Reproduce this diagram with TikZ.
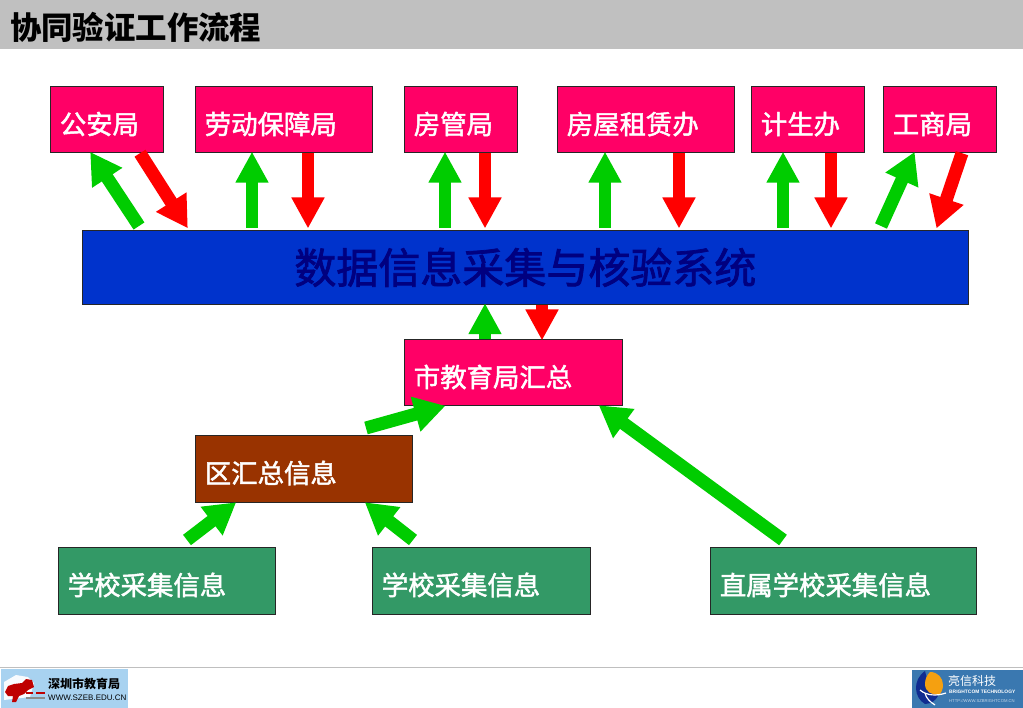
\documentclass[tikz,border=0pt]{standalone}
\usepackage{fontspec}
\setmainfont{Noto Sans CJK SC}
\newfontfamily\heavyfont[RawFeature={embolden=1.8}]{Noto Sans CJK SC}
\newfontfamily\latinfont{Liberation Sans}
\usetikzlibrary{arrows.meta}
\definecolor{pinkbox}{HTML}{FF0066}
\definecolor{bluebox}{HTML}{0033CC}
\definecolor{navytext}{HTML}{000080}
\definecolor{brownbox}{HTML}{993300}
\definecolor{greenbox}{HTML}{339966}
\definecolor{arrowgreen}{HTML}{00CC00}
\definecolor{arrowred}{HTML}{FF0000}
\definecolor{titlebar}{HTML}{C0C0C0}
\definecolor{logoblue}{HTML}{A8D2F0}
\definecolor{brightblue}{HTML}{3A78B0}
\definecolor{globeblue}{HTML}{102C90}
\definecolor{globeorange}{HTML}{F5A010}
\tikzset{
  box/.style={draw=black!85, line width=.7pt, anchor=north west, align=left,
    inner xsep=9.5pt, inner ysep=0pt, minimum height=66.5pt, text=white,
    text height=35pt, text depth=6pt,
    font=\heavyfont\fontsize{26.4}{28}\selectfont},
  pinknode/.style={box, fill=pinkbox},
  brownnode/.style={box, fill=brownbox},
  greennode/.style={box, fill=greenbox},
  ga/.style={draw=arrowgreen, line width=11.5pt, shorten >=-1.5pt, -{Triangle[width=31pt,length=31pt]}},
  ra/.style={draw=arrowred, line width=11.5pt, shorten >=-1.5pt, -{Triangle[width=31pt,length=31pt]}},
  diag/.style={line width=13pt, -{Triangle[width=34pt,length=31pt]}},
}
\begin{document}
\begin{tikzpicture}[x=1pt,y=-1pt]
\useasboundingbox (0,0) rectangle (1023,708);
\fill[white] (0,0) rectangle (1023,708);
\fill[titlebar] (0,0) rectangle (1023,49);
\node[anchor=west, inner sep=0pt, font=\fontsize{31.4}{33}\selectfont\bfseries] (title) at (10,27) {协同验证工作流程};

\node[pinknode, text width=93.5pt] (n1) at (50,86) {公安局};
\node[pinknode, text width=157.5pt] (n2) at (195,86) {劳动保障局};
\node[pinknode, text width=93.5pt] (n3) at (404,86) {房管局};
\node[pinknode, text width=157.5pt] (n4) at (557,86) {房屋租赁办};
\node[pinknode, text width=93.5pt] (n5) at (751,86) {计生办};
\node[pinknode, text width=93.5pt] (n6) at (883,86) {工商局};

\node[draw=black!85, line width=.7pt, fill=bluebox, anchor=north west, minimum width=886pt, minimum height=74pt,
  inner sep=0pt, text=navytext, font=\heavyfont\fontsize{42}{44}\selectfont] (sys) at (82,230) {数据信息采集与核验系统};

\node[pinknode, text width=198.5pt] (city) at (404,339) {市教育局汇总};
\node[brownnode, text width=197.5pt] (dist) at (195,435) {区汇总信息};
\node[greennode, text width=197.5pt] (s1) at (58,547) {学校采集信息};
\node[greennode, text width=198.5pt] (s2) at (372,547) {学校采集信息};
\node[greennode, text width=246.5pt] (s3) at (710,547) {直属学校采集信息};

\draw[ga, diag] ([xshift=57pt,yshift=4pt]sys.north west) -- ([xshift=41pt]n1.south west);
\draw[ra, diag] ([xshift=90pt]n1.south west) -- ([xshift=105pt,yshift=3pt]sys.north west);
\draw[ga] ([xshift=170pt,yshift=2pt]sys.north west) -- ([xshift=57pt]n2.south west);
\draw[ra] ([xshift=113pt]n2.south west) -- ([xshift=226pt,yshift=3pt]sys.north west);
\draw[ga] ([xshift=363pt,yshift=2pt]sys.north west) -- ([xshift=41pt]n3.south west);
\draw[ra] ([xshift=81pt]n3.south west) -- ([xshift=403pt,yshift=3pt]sys.north west);
\draw[ga] ([xshift=523pt,yshift=2pt]sys.north west) -- ([xshift=48pt]n4.south west);
\draw[ra] ([xshift=122pt]n4.south west) -- ([xshift=597pt,yshift=3pt]sys.north west);
\draw[ga] ([xshift=701pt,yshift=2pt]sys.north west) -- ([xshift=32pt]n5.south west);
\draw[ra] ([xshift=80pt]n5.south west) -- ([xshift=749pt,yshift=3pt]sys.north west);
\draw[ga, diag] ([xshift=799pt,yshift=4pt]sys.north west) -- ([xshift=31pt]n6.south west);
\draw[ra, diag] ([xshift=79pt]n6.south west) -- ([xshift=855pt,yshift=3pt]sys.north west);

\draw[ga] ([xshift=81pt]city.north west) -- ([xshift=403pt]sys.south west);
\draw[ra] ([xshift=460pt]sys.south west) -- ([xshift=138pt]city.north west);
\draw[ga, diag] ([xshift=171pt,yshift=7pt]dist.north west) -- ([xshift=40pt]city.south west);
\draw[ga, diag] ([xshift=129pt,yshift=7pt]s1.north west) -- ([xshift=40pt,yshift=-1pt]dist.south west);
\draw[ga, diag] ([xshift=41pt,yshift=7pt]s2.north west) -- ([xshift=171pt,yshift=-1pt]dist.south west);
\draw[ga, diag] ([xshift=73pt,yshift=7pt]s3.north west) -- ([xshift=196pt]city.south west);

% footer rule
\draw[black!25, line width=1pt] (0,667.5) -- (1023,667.5);

% left logo
\fill[logoblue] (1,669) rectangle (128,708);
\fill[white!92!logoblue] (4,682) -- (16,675) -- (28,677) -- (34,683) -- (30,697) -- (4,700) -- cycle;
\fill[red!75!black] (5,692) -- (8,686) -- (14,684) -- (22,683) -- (26,679) -- (32,680) -- (34,687) -- (28,690) -- (24,694) -- (19,696) -- (16,702) -- (12,702) -- (13,696) -- (8,696) -- cycle;
\fill[red!75!black] (26,692) rectangle (33,694);
\fill[red!75!black] (36,692) rectangle (45,694);
\fill[black!45] (26,697) rectangle (45,699);
\node[anchor=west, inner sep=0pt, font=\fontsize{12}{14}\selectfont\bfseries] (lt1) at (48,684) {深圳市教育局};
\node[anchor=west, inner sep=0pt, font=\latinfont\fontsize{8}{9}\selectfont] (lt2) at (48,698) {WWW.SZEB.EDU.CN};

% right logo
\fill[brightblue] (912,670) rectangle (1023,708);
\fill[globeblue] (925,671) .. controls (912,680) and (914,698) .. (925,704) .. controls (931,704) and (936,700) .. (938,696) -- (930,690) -- cycle;
\fill[globeorange] (930,672) .. controls (938,672) and (943,678) .. (943,685) .. controls (943,690) and (941,693) .. (939,695) .. controls (932,695) and (925,692) .. (925,684) .. controls (925,679) and (927,675) .. (930,672) -- cycle;
\draw[white, line width=1.2pt] (920,690) .. controls (927,696) and (937,696) .. (946,693);
\draw[white, line width=1.2pt] (925,693) .. controls (926,698) and (930,702) .. (935,705);
\node[anchor=west, inner sep=0pt, text=white, font=\fontsize{12}{14}\selectfont] (rt1) at (948,681) {亮信科技};
\node[anchor=west, inner sep=0pt, text=white, font=\latinfont\bfseries\fontsize{4.9}{6}\selectfont] (rt2) at (949,692) {BRIGHTCOM TECHNOLOGY};
\node[anchor=west, inner sep=0pt, text=white!70!brightblue, font=\latinfont\fontsize{4.2}{5}\selectfont] (rt3) at (949,701) {HTTP://WWW.SZBRIGHTCOM.CN};
\end{tikzpicture}
\end{document}
